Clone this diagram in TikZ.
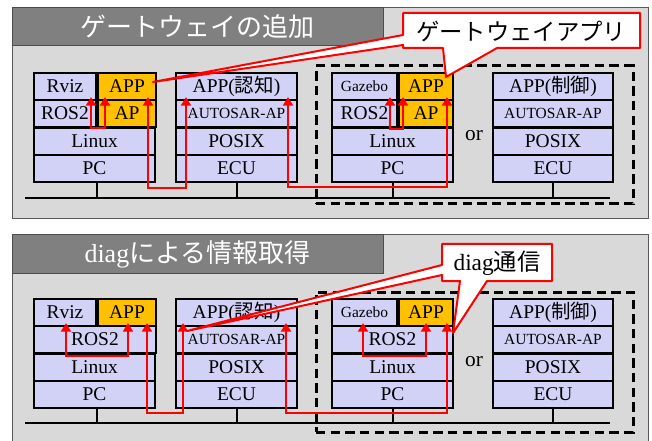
\documentclass[tikz,border=0pt]{standalone}
\usepackage{fontspec}
\setmainfont{Liberation Serif}
\newfontfamily\jp{Noto Sans CJK JP}
\usetikzlibrary{arrows.meta,calc,fit}
\definecolor{lav}{RGB}{210,210,247}
\definecolor{gold}{RGB}{255,192,0}
\definecolor{panelgray}{RGB}{217,217,217}
\definecolor{titlegray}{RGB}{128,128,128}
\definecolor{rd}{RGB}{255,0,0}
\tikzset{
  panel/.style={draw=black!65, line width=0.75pt, fill=panelgray, inner sep=0pt, outer sep=0pt},
  titlebar/.style={draw=black!70, line width=0.75pt, fill=titlegray, inner sep=0pt, outer sep=0pt},
  titletext/.style={text=white, inner sep=0pt, font=\fontsize{19.5}{22}\selectfont},
  cell/.style={draw=black, line width=1.5pt, fill=lav, inner sep=0pt, outer sep=0pt},
  ocell/.style={cell, fill=gold},
  celltxt/.style={inner sep=0pt, font=\fontsize{14.6}{16}\selectfont},
  smalltext/.style={font=\fontsize{11.6}{13}\selectfont},
  ortext/.style={inner sep=0pt, font=\fontsize{16}{18}\selectfont},
  bus/.style={draw=black, line width=1.5pt},
  dashbox/.style={draw=black, line width=2.25pt, dash pattern=on 7pt off 4pt, inner sep=0pt, outer sep=0pt},
  redpath/.style={draw=rd, line width=2.2pt, {Triangle[width=7.5pt,length=6.5pt]}-{Triangle[width=7.5pt,length=6.5pt]}},
  callout/.style={draw=rd, line width=1.5pt, fill=white, line join=round},
  calltext/.style={inner sep=0pt, font=\fontsize{17.5}{20}\selectfont}
}
% \mkcell[text style]{box style}{name}{fit points}{text}
\newcommand\mkcell[5][]{%
  \node[#2, fit={#4}] (#3) {};
  \node[celltxt, #1] (#3t) at (#3.center) {#5};}
\begin{document}
\begin{tikzpicture}[x=0.75pt,y=-0.75pt]
\useasboundingbox (0,0) rectangle (652,441);

% ---------- top panel ----------
\node[panel, fit={(12,8)(648,219)}] (tpanel) {};
\node[titlebar, fit={(12,8)(383,46)}] (ttitle) {};
\node[titletext] (ttitlet) at (ttitle.center) {\jp ゲートウェイの追加};

\mkcell{cell}{t1rviz}{(34,73)(96,100)}{Rviz}
\mkcell{cell}{t1ros}{(34,100)(96,127)}{ROS2}
\mkcell{ocell}{t1app}{(98,73)(156,100)}{APP}
\mkcell{ocell}{t1ap}{(98,100)(156,127)}{AP}
\mkcell{cell}{t1linux}{(34,128)(155,155)}{Linux}
\mkcell{cell}{t1pc}{(34,155)(155,182)}{PC}

\mkcell{cell}{t2app}{(176,73)(297,100)}{APP({\jp 認知})}
\mkcell[smalltext]{cell}{t2aut}{(176,100)(297,127)}{AUTOSAR-AP}
\mkcell{cell}{t2posix}{(176,128)(297,155)}{POSIX}
\mkcell{cell}{t2ecu}{(176,155)(297,182)}{ECU}

\mkcell[smalltext]{cell}{t3gaz}{(332,73)(397,100)}{Gazebo}
\mkcell{cell}{t3ros}{(332,100)(397,127)}{ROS2}
\mkcell{ocell}{t3app}{(399,73)(453,100)}{APP}
\mkcell{ocell}{t3ap}{(399,100)(453,127)}{AP}
\mkcell{cell}{t3linux}{(332,128)(453,155)}{Linux}
\mkcell{cell}{t3pc}{(332,155)(453,182)}{PC}

\mkcell{cell}{t4app}{(493,73)(613,100)}{APP({\jp 制御})}
\mkcell[smalltext]{cell}{t4aut}{(493,100)(613,127)}{AUTOSAR-AP}
\mkcell{cell}{t4posix}{(493,128)(613,155)}{POSIX}
\mkcell{cell}{t4ecu}{(493,155)(613,182)}{ECU}

\node[ortext] (tor) at (474,136) {or};

\coordinate (tbusL) at (25,198);
\coordinate (tbusR) at (610,198);
\coordinate (t1drop) at (97,182);
\draw[bus] (tbusL) -- (tbusR);
\draw[bus] (t1drop) -- (t1drop |- tbusL);
\draw[bus] (t2ecu.south) -- (t2ecu.south |- tbusL);
\draw[bus] (t3pc.south) -- (t3pc.south |- tbusL);
\draw[bus] (t4ecu.south) -- (t4ecu.south |- tbusL);

\node[dashbox, fit={(316,66)(633,204)}] (tdash) {};

% ---------- bottom panel ----------
\node[panel, fit={(12,235)(648,452)}] (bpanel) {};
\node[titlebar, fit={(12,235)(383,274)}] (btitle) {};
\node[titletext] (btitlet) at (btitle.center) {diag{\jp による情報取得}};

\begin{scope}[shift={(0,226)}]
\mkcell{cell}{b1rviz}{(34,73)(96,100)}{Rviz}
\mkcell{ocell}{b1app}{(98,73)(156,100)}{APP}
\mkcell{cell}{b1ros}{(34,100)(156,127)}{ROS2}
\mkcell{cell}{b1linux}{(34,128)(155,155)}{Linux}
\mkcell{cell}{b1pc}{(34,155)(155,182)}{PC}

\mkcell{cell}{b2app}{(176,73)(297,100)}{APP({\jp 認知})}
\mkcell[smalltext]{cell}{b2aut}{(176,100)(297,127)}{AUTOSAR-AP}
\mkcell{cell}{b2posix}{(176,128)(297,155)}{POSIX}
\mkcell{cell}{b2ecu}{(176,155)(297,182)}{ECU}

\mkcell[smalltext]{cell}{b3gaz}{(332,73)(397,100)}{Gazebo}
\mkcell{ocell}{b3app}{(399,73)(453,100)}{APP}
\mkcell{cell}{b3ros}{(332,100)(453,127)}{ROS2}
\mkcell{cell}{b3linux}{(332,128)(453,155)}{Linux}
\mkcell{cell}{b3pc}{(332,155)(453,182)}{PC}

\mkcell{cell}{b4app}{(493,73)(613,100)}{APP({\jp 制御})}
\mkcell[smalltext]{cell}{b4aut}{(493,100)(613,127)}{AUTOSAR-AP}
\mkcell{cell}{b4posix}{(493,128)(613,155)}{POSIX}
\mkcell{cell}{b4ecu}{(493,155)(613,182)}{ECU}

\node[ortext] (bor) at (474,136) {or};

\coordinate (bbusL) at (25,197);
\coordinate (bbusR) at (610,197);
\coordinate (b1drop) at (97,182);
\draw[bus] (bbusL) -- (bbusR);
\draw[bus] (b1drop) -- (b1drop |- bbusL);
\draw[bus] (b2ecu.south) -- (b2ecu.south |- bbusL);
\draw[bus] (b3pc.south) -- (b3pc.south |- bbusL);
\draw[bus] (b4ecu.south) -- (b4ecu.south |- bbusL);

\node[dashbox, fit={(316,66)(633,206)}] (bdash) {};
\end{scope}

% ---------- red connectors, top ----------
\coordinate (tA1) at ($(t1rviz.south east)+(-5,-3)$);
\coordinate (tA2) at ($(t1app.south west)+(7,-3)$);
\coordinate (tB1) at ($(t1app.south east)+(-8,-3)$);
\coordinate (tB2) at ($(t2app.south west)+(10,-3)$);
\coordinate (tC1) at ($(t2app.south east)+(-9,-3)$);
\coordinate (tC2) at ($(t3app.south east)+(-6,-3)$);
\coordinate (tD1) at ($(t3gaz.south east)+(-7,-3)$);
\coordinate (tD2) at ($(t3app.south west)+(4,-3)$);
\coordinate (tlowA) at ($(t1linux.north)+(0,0)$);
\coordinate (tlowD) at ($(t3linux.north)+(0,1)$);
\coordinate (tlowB) at (0,188);
\coordinate (tlowC) at (0,187);
\draw[redpath] (tA1) -- (tA1 |- tlowA) -- (tA2 |- tlowA) -- (tA2);
\draw[redpath] (tB1) -- (tB1 |- tlowB) -- (tB2 |- tlowB) -- (tB2);
\draw[redpath] (tC1) -- (tC1 |- tlowC) -- (tC2 |- tlowC) -- (tC2);
\draw[redpath] (tD1) -- (tD1 |- tlowD) -- (tD2 |- tlowD) -- (tD2);

% ---------- red connectors, bottom ----------
\coordinate (bE1) at ($(b1rviz.south)+(1,-3)$);
\coordinate (bE2) at ($(b1app.south)+(1,-3)$);
\coordinate (bF1) at ($(b1app.south east)+(-9,-3)$);
\coordinate (bF2) at ($(b2app.south west)+(7,-3)$);
\coordinate (bG1) at ($(b2app.south east)+(-11,-3)$);
\coordinate (bG2) at ($(b3app.south east)+(-6,-3)$);
\coordinate (bH1) at ($(b3gaz.south)+(-1.5,-3)$);
\coordinate (bH2) at ($(b3app.south)+(0,-3)$);
\coordinate (blowE) at ($(b1linux.north)+(0,2)$);
\coordinate (blowH) at ($(b3linux.north)+(0,2)$);
\coordinate (blowF) at (0,413);
\draw[redpath] (bE1) -- (bE1 |- blowE) -- (bE2 |- blowE) -- (bE2);
\draw[redpath] (bF1) -- (bF1 |- blowF) -- (bF2 |- blowF) -- (bF2);
\draw[redpath] (bG1) -- (bG1 |- blowF) -- (bG2 |- blowF) -- (bG2);
\draw[redpath] (bH1) -- (bH1 |- blowH) -- (bH2 |- blowH) -- (bH2);

% ---------- callouts ----------
\draw[callout] (403,13) -- (640,13) -- (640,48) -- (497,48) -- (446,77) -- (443,48)
  -- (403,48) -- (403,45) -- (153,82) -- (403,35) -- cycle;
\node[calltext] (tcall) at (521,31) {\jp ゲートウェイアプリ};

\draw[callout] (442,244) -- (552,244) -- (552,281) -- (487,281) -- (453,333) -- (460,281)
  -- (442,281) -- (442,275) -- (187,331) -- (442,265) -- cycle;
\node[calltext] (bcall) at (497,263) {diag{\jp 通信}};
\end{tikzpicture}
\end{document}
